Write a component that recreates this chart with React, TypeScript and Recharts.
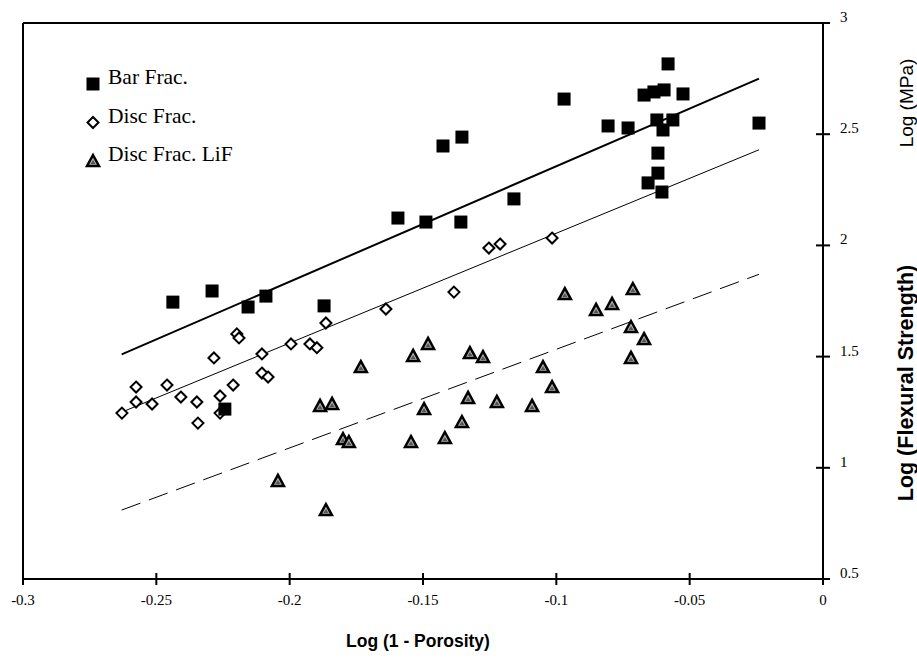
import { ScatterChart, Scatter, XAxis, YAxis, ReferenceLine, Legend } from "recharts"

// axis ticks
const xTicks = [-0.3, -0.25, -0.2, -0.15, -0.1, -0.05, 0]
const yTicks = [0.5, 1, 1.5, 2, 2.5, 3]

// Bar Frac. (filled squares)
const barFrac: [number, number][] = [
  [-0.2438, 1.745], [-0.2291, 1.795], [-0.2156, 1.723], [-0.2089, 1.772],
  [-0.1871, 1.728], [-0.2243, 1.264], [-0.1594, 2.123], [-0.1489, 2.105],
  [-0.1358, 2.105], [-0.1425, 2.447], [-0.1354, 2.487], [-0.1159, 2.209],
  [-0.0971, 2.658], [-0.0806, 2.537], [-0.0731, 2.528], [-0.0671, 2.676],
  [-0.0634, 2.69], [-0.0596, 2.699], [-0.0525, 2.681], [-0.0581, 2.816],
  [-0.0623, 2.564], [-0.0563, 2.564], [-0.06, 2.519], [-0.024, 2.55],
  [-0.0619, 2.415], [-0.0619, 2.325], [-0.0656, 2.281], [-0.0604, 2.24],
]

// Disc Frac. (open diamonds)
const discFrac: [number, number][] = [
  [-0.2629, 1.246], [-0.2576, 1.363], [-0.2576, 1.296], [-0.2516, 1.287],
  [-0.246, 1.372], [-0.2408, 1.318], [-0.2348, 1.296], [-0.2344, 1.201],
  [-0.2261, 1.323], [-0.2261, 1.246], [-0.2212, 1.372], [-0.2284, 1.494],
  [-0.2198, 1.602], [-0.219, 1.584], [-0.2104, 1.512], [-0.2104, 1.426],
  [-0.2081, 1.408], [-0.1995, 1.557], [-0.1924, 1.557], [-0.1898, 1.54],
  [-0.1864, 1.651], [-0.1639, 1.714], [-0.1384, 1.79], [-0.1253, 1.988],
  [-0.1211, 2.006], [-0.1016, 2.033],
]

// Disc Frac. LiF (hatched triangles)
const discLiF: [number, number][] = [
  [-0.2044, 0.941], [-0.1864, 0.81], [-0.1733, 1.453], [-0.1886, 1.278],
  [-0.1841, 1.287], [-0.18, 1.129], [-0.1778, 1.116], [-0.1537, 1.503],
  [-0.1481, 1.557], [-0.1545, 1.116], [-0.1496, 1.264], [-0.1418, 1.134],
  [-0.1354, 1.206], [-0.1331, 1.314], [-0.1324, 1.516], [-0.1275, 1.498],
  [-0.1223, 1.296], [-0.1091, 1.278], [-0.105, 1.453], [-0.1016, 1.363],
  [-0.0968, 1.781], [-0.0713, 1.804], [-0.0791, 1.737], [-0.0851, 1.71],
  [-0.072, 1.633], [-0.0671, 1.579], [-0.072, 1.494],
]

// fitted lines (end points)
const fitX = [-0.263, -0.024]
const barFit = [1.51, 2.75]
const discFit = [1.25, 2.43]
const lifFit = [0.81, 1.87]

const legendNames = ["Bar Frac.", "Disc Frac.", "Disc Frac. LiF"]

const toPts = (d: [number, number][]) => d.map(([x, y]) => ({ x, y }))
const toLine = (ys: number[]) => fitX.map((x, i) => ({ x, y: ys[i] }))

const serif = "'Liberation Serif', 'Times New Roman', serif"
const sans = "'Liberation Sans', Arial, sans-serif"

function Square(cx: number, cy: number) {
  return <rect x={cx - 6.5} y={cy - 6.5} width={13} height={13} fill="#000" />
}
function Diamond(cx: number, cy: number) {
  return (
    <polygon
      points={`${cx},${cy - 5.5} ${cx + 5.5},${cy} ${cx},${cy + 5.5} ${cx - 5.5},${cy}`}
      fill="#fff"
      stroke="#000"
      strokeWidth={2}
    />
  )
}
function Triangle(cx: number, cy: number) {
  return (
    <g>
      <polygon
        points={`${cx},${cy - 6} ${cx + 6},${cy + 5} ${cx - 6},${cy + 5}`}
        fill="#b0b0b0"
        stroke="#000"
        strokeWidth={2.5}
      />
      <polygon points={`${cx},${cy - 1} ${cx + 2.5},${cy + 3} ${cx - 2.5},${cy + 3}`} fill="#555" />
    </g>
  )
}

// tick mark crossing the axis, plus its label
function XTick(p: any) {
  const { x, y, payload } = p
  return (
    <g>
      <rect x={x - 1} y={y - 6} width={2} height={12} fill="#000" />
      <text x={x} y={y + 26} textAnchor="middle" fontFamily={serif} fontSize={15} fill="#000">
        {String(payload.value)}
      </text>
    </g>
  )
}

function YTick(p: any) {
  const { x, y, payload } = p
  return (
    <g>
      <rect x={x - 7} y={y - 1} width={14} height={2} fill="#000" />
      <text x={x + 17} y={y - 1} fontFamily={serif} fontSize={15} fill="#000">
        {String(payload.value)}
      </text>
    </g>
  )
}

function RightTitle(props: any) {
  const vb = props.viewBox || { x: 823, y: 23, width: 60, height: 556 }
  const tx = vb.x + 90
  return (
    <g>
      <text
        x={tx}
        y={383}
        transform={`rotate(-90 ${tx} 383)`}
        textAnchor="middle"
        fontFamily={sans}
        fontSize={21.5}
        fontWeight="bold"
        fill="#000"
      >
        Log (Flexural Strength)
      </text>
      <text
        x={tx}
        y={103}
        transform={`rotate(-90 ${tx} 103)`}
        textAnchor="middle"
        fontFamily={sans}
        fontSize={19}
        fill="#000"
      >
        Log (MPa)
      </text>
    </g>
  )
}

function LegendBox() {
  const markers = [Square, Diamond, Triangle]
  return (
    <svg width={220} height={120}>
      {legendNames.map((name, i) => {
        const cy = 24 + i * 38.5
        return (
          <g key={name}>
            {markers[i](13, cy)}
            <text x={28} y={cy} fontFamily={serif} fontSize={21.5} fill="#000">
              {name}
            </text>
          </g>
        )
      })}
    </svg>
  )
}

export default function App() {
  return (
    <div style={{ position: "absolute", left: 0, top: 0, background: "#fff" }}>
      <ScatterChart width={917} height={659} margin={{ top: 23, right: 34, bottom: 50, left: 23 }}>
        <XAxis
          type="number"
          dataKey="x"
          domain={[-0.3, 0]}
          ticks={xTicks}
          allowDataOverflow
          height={30}
          tickSize={0}
          tickMargin={0}
          tick={(p: any) => <XTick {...p} />}
          tickLine={false}
          axisLine={{ stroke: "#000", strokeWidth: 2 }}
          interval={0}
          label={{
            value: "Log (1 - Porosity)",
            position: "bottom",
            offset: 26,
            dx: -5,
            fill: "#000",
            fontSize: 17.5,
            fontWeight: "bold",
            fontFamily: sans,
          }}
        />
        <YAxis
          type="number"
          dataKey="y"
          orientation="right"
          domain={[0.5, 3]}
          ticks={yTicks}
          allowDataOverflow
          width={60}
          tickSize={0}
          tickMargin={0}
          tick={(p: any) => <YTick {...p} />}
          tickLine={false}
          axisLine={{ stroke: "#000", strokeWidth: 2 }}
          interval={0}
          label={<RightTitle />}
        />
        <ReferenceLine x={-0.3} stroke="#000" strokeWidth={2} />
        <ReferenceLine y={3} stroke="#000" strokeWidth={2} />

        <Scatter data={toLine(barFit)} line={{ stroke: "#000", strokeWidth: 2 }} shape={() => <g />} isAnimationActive={false} legendType="none" />
        <Scatter data={toLine(discFit)} line={{ stroke: "#000", strokeWidth: 1 }} shape={() => <g />} isAnimationActive={false} legendType="none" />
        <Scatter data={toLine(lifFit)} line={{ stroke: "#000", strokeWidth: 1, strokeDasharray: "20 9" }} shape={() => <g />} isAnimationActive={false} legendType="none" />

        <Scatter name="Disc Frac. LiF" data={toPts(discLiF)} shape={(p: any) => Triangle(p.cx, p.cy)} isAnimationActive={false} />
        <Scatter name="Disc Frac." data={toPts(discFrac)} shape={(p: any) => Diamond(p.cx, p.cy)} isAnimationActive={false} />
        <Scatter name="Bar Frac." data={toPts(barFrac)} shape={(p: any) => Square(p.cx, p.cy)} isAnimationActive={false} />

        <Legend
          layout="vertical"
          align="center"
          verticalAlign="middle"
          wrapperStyle={{ left: 80, top: 60, width: 220, height: 120 }}
          content={() => <LegendBox />}
        />
      </ScatterChart>
    </div>
  )
}
